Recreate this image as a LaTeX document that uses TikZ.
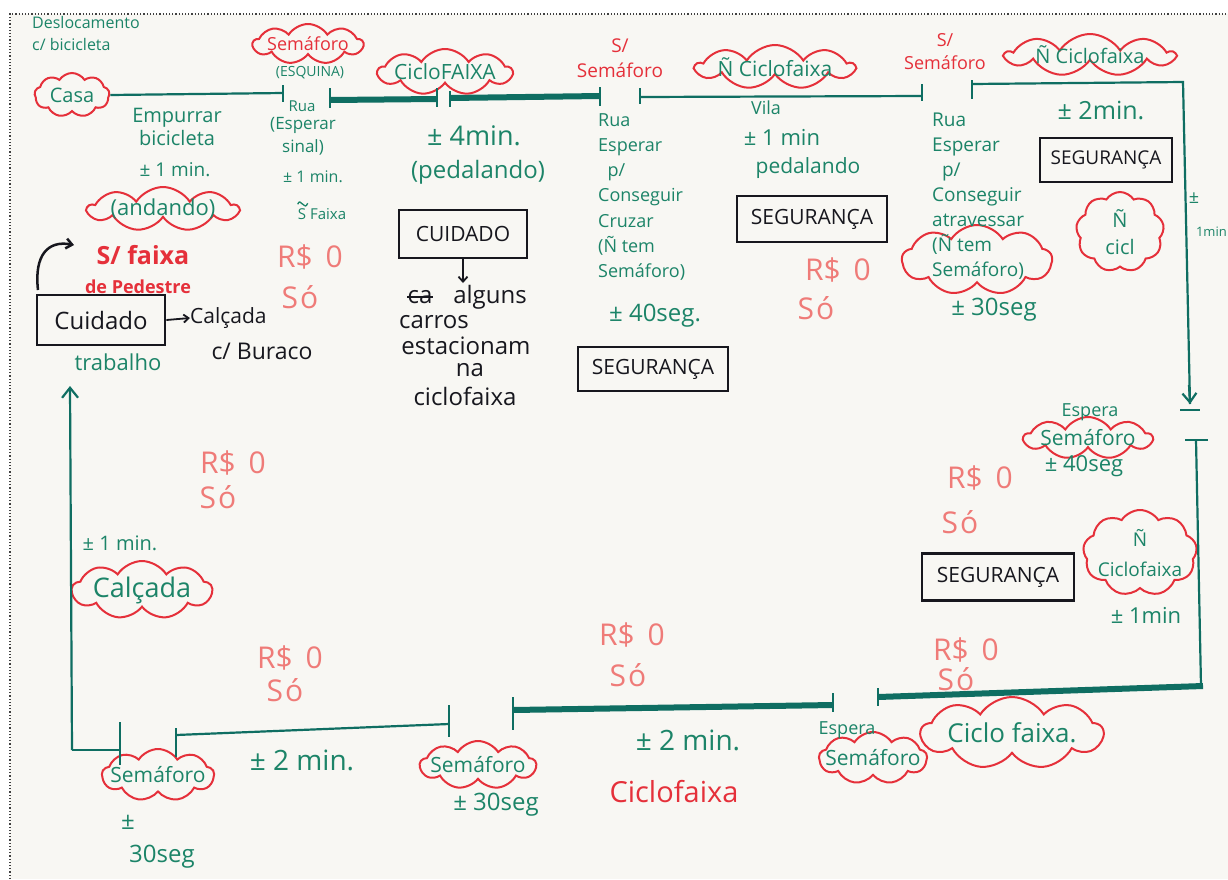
\documentclass[tikz,border=0pt]{standalone}
\usepackage{fontspec}
\setmainfont{Open Sans}
\usetikzlibrary{shapes.symbols,arrows.meta}
\definecolor{paper}{HTML}{F8F7F3}
\definecolor{tgreen}{HTML}{1C8468}
\definecolor{lgreen}{HTML}{0F6E62}
\definecolor{cred}{HTML}{E5303A}
\definecolor{pinkr}{HTML}{EF7B78}
\definecolor{ink}{HTML}{17171E}
\newcommand\fsz[2]{\fontsize{#1}{#2}\selectfont}
\newcommand\tk[3]{\draw[tickst] (#1,#2) -- (#1,#3);}
\tikzset{
  thinroute/.style={draw=lgreen, line width=2.2pt},
  thickroute/.style={draw=lgreen, line width=6pt},
  tickst/.style={draw=lgreen, line width=2.4pt},
  cloudR/.style={cloud, cloud puffs=9, cloud puff arc=115, cloud ignores aspect, draw=cred, line width=2pt, inner sep=0pt},
  boxk/.style={draw=ink, line width=2.8pt, rectangle, inner sep=0pt, text=ink, font=\fsz{21}{24}},
  gt/.style={text=tgreen, font=\fsz{18}{22}, inner sep=0pt},
  gtl/.style={text=tgreen, font=\fsz{24}{26}, inner sep=0pt},
  rt/.style={text=cred, font=\fsz{18}{22}, inner sep=0pt},
  rtb/.style={text=cred, font=\bfseries\fsz{25}{30}, inner sep=0pt},
  kt/.style={text=ink, font=\fsz{24}{26}, inner sep=0pt},
  pt/.style={text=pinkr, font=\fsz{30}{32}, inner sep=0pt},
}
\begin{document}
\begin{tikzpicture}[x=1pt,y=-1pt]
\useasboundingbox (0,0) rectangle (1228,879);
\fill[white] (0,0) rectangle (1228,879);
\fill[paper] (10,14) rectangle (1228,879);
\draw[dotted, line width=1.2pt, black!75] (10,879) -- (10,14) -- (1228,14);

% ---------- title
\node[gt, anchor=north west, align=left, font=\fsz{16}{22}] (title) at (32,16) {Deslocamento\\c/ bicicleta};

% ---------- clouds
\node[cloudR, minimum width=75pt, minimum height=44pt] (casa) at (72,95) {};
\node[gt, font=\fsz{20}{22}] (casaT) at (casa) {Casa};
\node[cloudR, minimum width=110pt, minimum height=40pt] (sem1) at (308,44) {};
\node[rt] (sem1T) at (sem1) {Semáforo};
\node[cloudR, minimum width=150pt, minimum height=44pt] (andando) at (163,209) {};
\node[gt, font=\fsz{22}{24}] (andandoT) at (andando) {(andando)};
\node[cloudR, minimum width=134pt, minimum height=46pt] (cf1) at (445,72) {};
\node[gt, font=\fsz{21}{24}] (cf1T) at (cf1) {CicloFAIXA};
\node[cloudR, minimum width=158pt, minimum height=44pt] (ncf1) at (775,67) {};
\node[gt, font=\fsz{21}{24}] (ncf1T) at (ncf1) {Ñ Ciclofaixa};
\node[cloudR, minimum width=168pt, minimum height=42pt] (ncf2) at (1090,55) {};
\node[gt, font=\fsz{20}{24}] (ncf2T) at (ncf2) {Ñ Ciclofaixa};
\node[cloudR, minimum width=88pt, minimum height=80pt] (ncicl) at (1120,232) {};
\node[gt, align=center, font=\fsz{20}{27}] (nciclT) at (ncicl) {Ñ\\cicl};
\node[cloudR, minimum width=150pt, minimum height=70pt] (ntem2) at (977,260) {};
\node[cloudR, minimum width=128pt, minimum height=42pt] (esp1) at (1088,438) {};
\node[gt, font=\fsz{21}{24}] (esp1T) at (esp1) {Semáforo};
\node[gt] (esp1L) at (1090,412) {Espera};
\node[cloudR, minimum width=114pt, minimum height=86pt] (ncf3) at (1140,553) {};
\node[gt, align=center, font=\fsz{19}{30}] (ncf3T) at (ncf3) {Ñ\\Ciclofaixa};
\node[cloudR, minimum width=182pt, minimum height=72pt] (cf2) at (1012,733) {};
\node[gt, font=\fsz{26}{28}] (cf2T) at (cf2) {Ciclo faixa.};
\node[cloudR, minimum width=108pt, minimum height=52pt] (esp2) at (873,758) {};
\node[gt, font=\fsz{21}{24}] (esp2T) at (esp2) {Semáforo};
\node[gt] (esp2L) at (847,730) {Espera};
\node[cloudR, minimum width=116pt, minimum height=48pt] (sem3) at (478,765) {};
\node[gt, font=\fsz{21}{24}] (sem3T) at (sem3) {Semáforo};
\node[cloudR, minimum width=112pt, minimum height=52pt] (sem4) at (158,775) {};
\node[gt, font=\fsz{21}{24}] (sem4T) at (sem4) {Semáforo};
\node[cloudR, minimum width=140pt, minimum height=58pt] (calc) at (142,590) {};
\node[gt, font=\fsz{27}{28}] (calcT) at (calc) {Calçada};

% ---------- route
\coordinate (a1) at (283,93);
\draw[thinroute] (casa.east) -- (a1);
\tk{283}{85}{102}
\tk{330}{88}{108}
\draw[thickroute] (330,100) -- (437,99);
\tk{437}{88}{107}
\tk{450}{91}{107}
\draw[thickroute] (450,98) -- (600,96);
\tk{600}{87}{106}
\tk{640}{88}{104}
\draw[thinroute] (640,97) -- (922,96);
\tk{922}{84}{101}
\tk{972}{80}{99}
\coordinate (c1) at (1183,82);
\coordinate (c2) at (1190,404);
\draw[thinroute] (972,84) -- (c1) -- (c2);
\draw[thinroute, -{Straight Barb[length=9pt,width=14pt]}] (1189,385) -- (c2);
\draw[tickst] (1180,410) -- (1200,410);
\draw[tickst] (1185,440) -- (1208,440);
\coordinate (c3) at (1196,440);
\coordinate (c4) at (1201,686);
\draw[thinroute] (c3) -- (c4);
\coordinate (c5) at (878,697);
\draw[thickroute] (1203,686) -- (c5);
\tk{878}{688}{706}
\tk{833}{693}{712}
\draw[thickroute] (833,705) -- (513,710);
\tk{513}{697}{730}
\tk{449}{705}{737}
\draw[thinroute] (449,724) -- (176,735);
\tk{176}{728}{757}
\tk{120}{722}{765}
\coordinate (c6) at (72,750);
\coordinate (c7) at (70,386);
\draw[thinroute] (120,750) -- (c6);
\draw[thinroute, -{Straight Barb[length=10pt,width=16pt]}] (c6) -- (c7);

% ---------- top-left
\node[gt, align=center, font=\fsz{20}{23}] (empurrar) at (177,127) {Empurrar\\bicicleta};
\node[gt, font=\fsz{19}{22}] (m1) at (175,170) {± 1 min.};
\node[gt, font=\fsz{14}{18}] (esquina) at (310,73) {(ESQUINA)};
\node[gt, font=\fsz{15}{18}] (rua1) at (302,106) {Rua};
\node[gt, align=center, font=\fsz{17}{23}] (sinal) at (303,136) {(Esperar\\sinal)};
\node[gt, font=\fsz{16}{18}] (m2) at (313,177) {± 1 min.};
\node[gt, font=\fsz{15}{18}] (sfaixa) at (322,214) {S Faixa};
\draw[tgreen, line width=1.3pt] (sfaixa.north west) ++(0,-4) .. controls +(2,-4) and +(-3,-2) .. ++(5,0) .. controls +(3,2) and +(-2,4) .. ++(5,-1);
\node[rtb] (sf) at (143,255) {S/ faixa};
\node[rtb, font=\bfseries\fsz{18}{22}] (dp) at (138,287) {de Pedestre};
\node[boxk, minimum width=128pt, minimum height=50pt, font=\fsz{24}{26}] (cuid) at (101,320) {Cuidado};
\draw[ink, line width=2.5pt, -{Straight Barb[length=6pt,width=10pt]}] (38,290) .. controls (34,255) and (48,240) .. (74,245);
\node[kt, anchor=west, font=\fsz{21}{24}] (calcada) at (190,318) {Calçada};
\draw[ink, line width=1.8pt, -{Straight Barb[length=5pt,width=8pt]}] (cuid.east) -- (calcada.west);
\node[kt, font=\fsz{23}{26}] (buraco) at (262,351) {c/ Buraco};
\node[gt, font=\fsz{22}{24}] (trab) at (118,362) {trabalho};

% ---------- top middle
\node[gtl, font=\fsz{27}{28}] (m4) at (474,136) {± 4min.};
\node[gtl] (pedal1) at (478,172) {(pedalando)};
\node[boxk, minimum width=128pt, minimum height=48pt] (cuid2) at (463,234) {CUIDADO};
\coordinate (ca) at (463,283);
\draw[ink, line width=1.8pt, -{Straight Barb[length=5pt,width=9pt]}] (cuid2.south) -- (ca);
\node[kt] (stk) at (420,297) {ca};
\draw[ink, line width=2pt] (stk.west) -- (stk.east);
\node[kt] (alg) at (490,297) {alguns};
\node[kt] (carros) at (434,322) {carros};
\node[kt] (estac) at (466,346) {estacionam};
\node[kt] (na) at (470,370) {na};
\node[kt] (ciclofx) at (465,396) {ciclofaixa};

\node[rt, align=center, font=\fsz{19}{25}] (ss1) at (620,58) {S/\\Semáforo};
\node[gt, anchor=north west, align=left, font=\fsz{18}{25.3}] (rua2) at (598,113) {Rua\\Esperar\\\ \ p/\\Conseguir\\Cruzar\\(Ñ tem\\Semáforo)};
\node[gtl] (m40) at (655,316) {± 40seg.};
\node[boxk, minimum width=150pt, minimum height=44pt] (seg1) at (653,369) {SEGURANÇA};

\node[gt] (vila) at (766,108) {Vila};
\node[gt, font=\fsz{22}{24}] (m5) at (782,137) {± 1 min};
\node[gt, font=\fsz{21}{24}] (pedal2) at (808,168) {pedalando};
\node[boxk, minimum width=150pt, minimum height=46pt] (seg2) at (812,219) {SEGURANÇA};

\node[rt, align=center, font=\fsz{18}{23}] (ss2) at (945,52) {S/\\Semáforo};
\node[gt, anchor=north west, align=left, font=\fsz{19}{25}] (rua3) at (932,113) {Rua\\Esperar\\\ \ p/\\Conseguir\\atravessar\\(Ñ tem\\Semáforo)};
\node[gtl] (m30) at (994,310) {± 30seg};
\node[gtl, font=\fsz{25}{26}] (m2b) at (1101,110) {± 2min.};
\node[boxk, minimum width=132pt, minimum height=44pt, font=\fsz{19}{22}] (seg3) at (1106,160) {SEGURANÇA};
\node[gt] (pmr) at (1194,198) {±};
\node[gt, anchor=east, font=\fsz{13}{16}] (m1r) at (1227,232) {1min};

% ---------- right side
\node[gt, font=\fsz{22}{24}] (m40b) at (1084,466) {± 40seg};
\node[boxk, minimum width=152pt, minimum height=47pt] (seg4) at (998,577) {SEGURANÇA};
\node[gt, font=\fsz{22}{24}] (m1c) at (1146,615) {± 1min};

% ---------- bottom
\node[gtl, font=\fsz{28}{30}] (m2c) at (688,740) {± 2 min.};
\node[rt, font=\fsz{29}{32}] (cfred) at (674,792) {Ciclofaixa};
\node[gtl] (m30b) at (496,805) {± 30seg};
\node[gtl, font=\fsz{28}{30}] (m2d) at (302,760) {± 2 min.};
\node[gtl] (pm4) at (128,822) {±};
\node[gtl] (s30) at (162,857) {30seg};
\node[gt, font=\fsz{20}{22}] (m1d) at (120,543) {± 1 min.};

% ---------- R$ 0 / So
\foreach \n/\x/\y/\sx/\sy in {r1/310/257/300/297, r2/838/270/816/308, r3/980/478/960/522, r4/233/463/218/497, r5/290/658/285/690, r6/632/635/628/675, r7/966/650/956/679}{
  \node[pt] (\n a) at (\x,\y) {R\$\,\ 0};
  \node[pt] (\n b) at (\sx,\sy) {S\kern2pt ó};
}
\end{tikzpicture}
\end{document}
